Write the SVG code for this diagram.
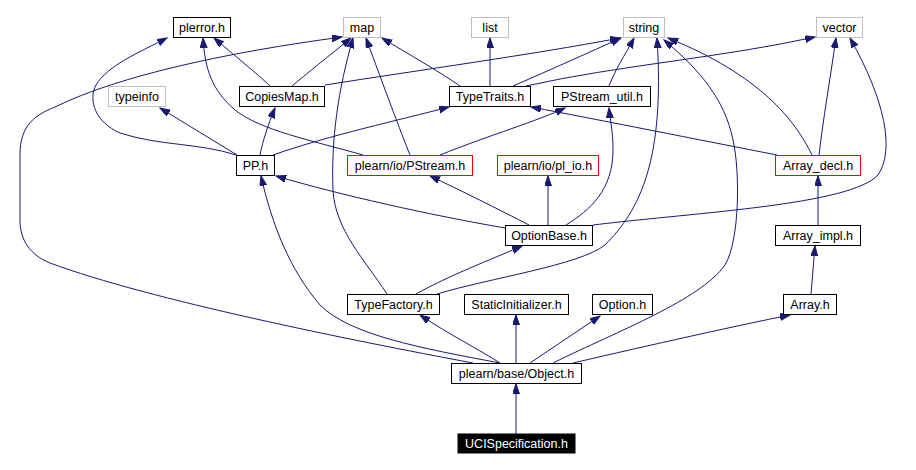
<svg xmlns="http://www.w3.org/2000/svg" width="916" height="470" viewBox="0 0 916 470">
<defs>
<marker id="ah" markerUnits="userSpaceOnUse" markerWidth="11" markerHeight="8" refX="10" refY="3.5" orient="auto" viewBox="0 0 11 8">
<path d="M0,0 L10,3.5 L0,7 z" fill="#191970" stroke="#191970" stroke-width="1"/>
</marker>
<style>
.n rect{fill:#fff;stroke:#000;stroke-width:1}
.n.g rect{stroke:#bfbfbf}
.n.r rect{stroke:#ff0000}
.n text{font-family:"Liberation Sans",Arial,sans-serif;font-size:12.5px;text-anchor:middle;fill:#000}
.e path{fill:none;stroke:#191970;stroke-width:1;marker-end:url(#ah)}
</style>
</defs>
<rect width="916" height="470" fill="#fff"/>
<g class="e" id="edges">
<path d="M270,86 C262,78 240,60 214,38"/>
<path d="M292,86 C305,75 330,55 351,38"/>
<path d="M325,85 C420,70 530,55 620,38"/>
<path d="M236,155 C200,143 160,146 120,133 C95,122 88,100 96,85 C108,65 140,52 167,38"/>
<path d="M237,155 L160,108"/>
<path d="M260,155 C263,140 268,125 275,108"/>
<path d="M273,155 C330,135 400,120 449,107"/>
<path d="M363,155 C310,140 260,130 235,110 C212,90 205,70 203,38"/>
<path d="M410,155 C400,130 385,90 366,38"/>
<path d="M440,155 C490,135 540,120 565,108"/>
<path d="M460,86 C440,72 410,55 382,38"/>
<path d="M490,86 L490,38"/>
<path d="M513,86 C550,70 590,52 621,38"/>
<path d="M526,86 C620,65 720,58 815,37"/>
<path d="M609,86 C615,70 625,55 634,38"/>
<path d="M566,225 C590,210 613,190 613,150 C613,130 610,120 609,108"/>
<path d="M548,225 L548,176"/>
<path d="M529,225 C500,210 460,190 430,176"/>
<path d="M505,228 C430,215 340,195 276,176"/>
<path d="M593,225 C700,212 850,205 878,175 C895,150 885,100 850,38"/>
<path d="M812,155 C795,120 760,75 668,38"/>
<path d="M819,155 C823,120 830,80 836,38"/>
<path d="M777,155 C700,140 600,120 531,107"/>
<path d="M818,225 L818,176"/>
<path d="M811,294 L815,246"/>
<path d="M387,294 C365,260 335,230 333,190 C331,140 338,90 353,38"/>
<path d="M416,294 C450,275 490,260 522,246"/>
<path d="M437,294 C490,278 580,265 605,245 C640,210 665,160 657,38"/>
<path d="M500,363 C480,350 450,335 420,315"/>
<path d="M500,363 C420,348 350,335 320,305 C290,270 272,225 261,176"/>
<path d="M473,363 C350,340 150,300 50,263 C30,255 20,240 20,220 L20,155 C20,125 35,115 55,107 C120,75 230,52 342,37"/>
<path d="M516,363 L516,315"/>
<path d="M530,363 L600,316"/>
<path d="M553,363 C620,330 700,300 725,265 C740,240 740,170 733,140 C725,100 700,70 664,40"/>
<path d="M573,363 C650,345 740,325 790,315"/>
<path d="M516,434 L516,384"/>
</g>
<g id="plerror" class="n"><rect x="173.5" y="17.5" width="57" height="20"/><text x="202" y="32">plerror.h</text></g>
<g id="map" class="n g"><rect x="343.5" y="17.5" width="37" height="20"/><text x="362" y="32">map</text></g>
<g id="list" class="n g"><rect x="471.5" y="17.5" width="37" height="20"/><text x="490" y="32">list</text></g>
<g id="string" class="n g"><rect x="623.5" y="17.5" width="41" height="20"/><text x="644" y="32">string</text></g>
<g id="vector" class="n g"><rect x="816.5" y="17.5" width="46" height="20"/><text x="839.5" y="32">vector</text></g>
<g id="typeinfo" class="n g"><rect x="108.5" y="86.5" width="57" height="20"/><text x="137" y="101">typeinfo</text></g>
<g id="CopiesMap" class="n"><rect x="239.5" y="86.5" width="85" height="20"/><text x="282" y="101">CopiesMap.h</text></g>
<g id="TypeTraits" class="n"><rect x="449.5" y="86.5" width="81" height="20"/><text x="490" y="101">TypeTraits.h</text></g>
<g id="PStream_util" class="n"><rect x="553.5" y="86.5" width="97" height="20"/><text x="602" y="101">PStream_util.h</text></g>
<g id="PP" class="n"><rect x="236.5" y="155.5" width="38" height="20"/><text x="255.5" y="170">PP.h</text></g>
<g id="PStream" class="n r"><rect x="347.5" y="155.5" width="125" height="20"/><text x="410" y="170">plearn/io/PStream.h</text></g>
<g id="pl_io" class="n r"><rect x="497.5" y="155.5" width="101" height="20"/><text x="548" y="170">plearn/io/pl_io.h</text></g>
<g id="Array_decl" class="n r"><rect x="775.5" y="155.5" width="85" height="20"/><text x="818" y="170">Array_decl.h</text></g>
<g id="OptionBase" class="n"><rect x="505.5" y="225.5" width="87" height="20"/><text x="549" y="240">OptionBase.h</text></g>
<g id="Array_impl" class="n"><rect x="775.5" y="225.5" width="85" height="20"/><text x="818" y="240">Array_impl.h</text></g>
<g id="TypeFactory" class="n"><rect x="347.5" y="294.5" width="92" height="20"/><text x="393.5" y="309">TypeFactory.h</text></g>
<g id="StaticInitializer" class="n"><rect x="464.5" y="294.5" width="104" height="20"/><text x="516.5" y="309">StaticInitializer.h</text></g>
<g id="Option" class="n"><rect x="592.5" y="294.5" width="60" height="20"/><text x="622.5" y="309">Option.h</text></g>
<g id="Array" class="n"><rect x="783.5" y="294.5" width="53" height="20"/><text x="810" y="309">Array.h</text></g>
<g id="Object" class="n"><rect x="451.5" y="363.5" width="130" height="20"/><text x="516.5" y="378">plearn/base/Object.h</text></g>
<g id="UCISpecification" class="n"><rect x="458" y="434" width="117" height="19" style="fill:#000;stroke:#000"/><text x="516.5" y="448" style="fill:#fff">UCISpecification.h</text></g>
</svg>
